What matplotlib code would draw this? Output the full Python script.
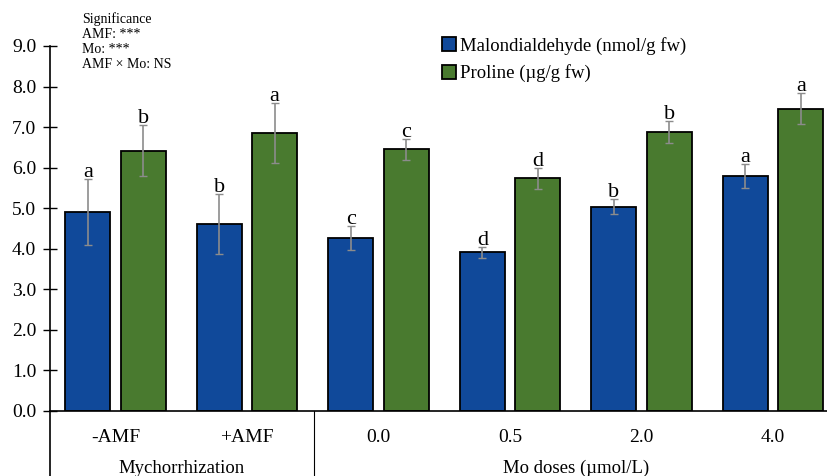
import numpy as np
import matplotlib.pyplot as plt
from matplotlib.patches import Patch
import matplotlib.transforms as mtransforms

plt.rcParams['font.family'] = ['Liberation Serif', 'DejaVu Serif']

categories = ['-AMF', '+AMF', '0.0', '0.5', '2.0', '4.0']
mda = [4.91, 4.61, 4.27, 3.91, 5.04, 5.80]
mda_err = [0.82, 0.73, 0.30, 0.13, 0.18, 0.29]
proline = [6.42, 6.85, 6.45, 5.74, 6.88, 7.45]
proline_err = [0.63, 0.74, 0.25, 0.26, 0.27, 0.38]
mda_letters = ['a', 'b', 'c', 'd', 'b', 'a']
proline_letters = ['b', 'a', 'c', 'd', 'b', 'a']
groups = ['Mychorrhization', 'Mo doses (\u00b5mol/L)']
sig_lines = ['Significance', 'AMF: ***', 'Mo: ***', 'AMF \u00d7 Mo: NS']

blue = '#10499a'
green = '#497a2f'

fig = plt.figure(figsize=(8.27, 4.76), dpi=100)
ax = fig.add_axes([0.0605, 0.1366, 0.9395, 0.7668])

x = np.arange(len(categories))
w = 0.342
off = 0.21

ax.bar(x - off, mda, w, color=blue, edgecolor='black', linewidth=1.3, zorder=2)
ax.bar(x + off, proline, w, color=green, edgecolor='black', linewidth=1.3, zorder=2)
ax.errorbar(x - off, mda, yerr=mda_err, fmt='none', ecolor='#8c8c8c',
            elinewidth=1.2, capsize=3, capthick=1, zorder=3)
ax.errorbar(x + off, proline, yerr=proline_err, fmt='none', ecolor='#8c8c8c',
            elinewidth=1.2, capsize=3, capthick=1, zorder=3)

for i in range(len(categories)):
    ax.text(x[i] - off, mda[i] + mda_err[i] + 0.05, mda_letters[i],
            ha='center', va='baseline', fontsize=16)
    ax.text(x[i] + off, proline[i] + proline_err[i] + 0.05, proline_letters[i],
            ha='center', va='baseline', fontsize=16)

ax.set_ylim(0, 9)
ax.set_xlim(-0.498, 5.41)
ax.set_yticks(np.arange(0, 9.1, 1.0))
ax.set_yticklabels([f'{v:.1f}' for v in np.arange(0, 9.1, 1.0)], fontsize=14)
ax.set_xticks(x)
ax.set_xticklabels(categories, fontsize=14)
ax.tick_params(axis='y', direction='inout', length=10, width=1, pad=5)
ax.tick_params(axis='x', length=0, pad=13)
for s in ['top', 'right']:
    ax.spines[s].set_visible(False)
ax.spines['left'].set_linewidth(1.2)
ax.spines['bottom'].set_linewidth(1.2)

# group separators below the axis
trans = mtransforms.blended_transform_factory(ax.transData, ax.transAxes)
ax.plot([-0.498, -0.498], [0, -0.18], transform=trans, color='black',
        linewidth=1.2, clip_on=False)
ax.plot([1.51, 1.51], [0, -0.18], transform=trans, color='black',
        linewidth=0.8, clip_on=False)
ax.text(0.5, -0.157, groups[0], transform=trans, ha='center', va='center', fontsize=13.5)
ax.text(3.5, -0.157, groups[1], transform=trans, ha='center', va='center', fontsize=13.5)

handles = [Patch(facecolor=blue, edgecolor='black', linewidth=1.3),
           Patch(facecolor=green, edgecolor='black', linewidth=1.3)]
fig.legend(handles, ['Malondialdehyde (nmol/g fw)', 'Proline (\u00b5g/g fw)'],
           loc='upper left', bbox_to_anchor=(0.525, 0.938), frameon=False,
           fontsize=13.5, handlelength=0.75, handleheight=0.75,
           handletextpad=0.25, labelspacing=0.5, borderaxespad=0)

for k, line in enumerate(sig_lines):
    fig.text(0.099, 1 - (19 + 15.3 * k) / 476, line,
             ha='left', va='center', fontsize=10)

fig.savefig('out.png', dpi=100)
